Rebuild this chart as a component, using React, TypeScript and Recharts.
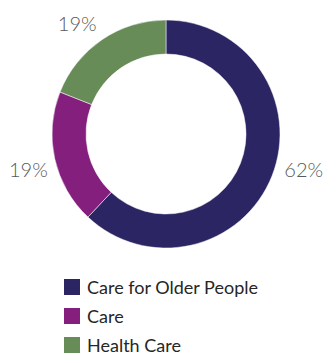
import { PieChart, Pie, Cell, Legend } from "recharts";

const categories = ["Care for Older People", "Care", "Health Care"];
const shares = [62, 19, 19];
const colors = ["#2B2563", "#841F7E", "#688C58"];

const data = categories.map((name, i) => ({ name, value: shares[i] }));

const RADIAN = Math.PI / 180;
// small angle shifts so the outside labels sit where the original has them
const labelNudge = [7.5, 1.6, 4.5];

const renderLabel = (props: any) => {
  const { cx, cy, midAngle, outerRadius, value, index } = props;
  const angle = midAngle + labelNudge[index];
  const r = outerRadius + 28;
  const x = cx + r * Math.cos(-angle * RADIAN);
  const y = cy + r * Math.sin(-angle * RADIAN);
  return (
    <text
      x={x}
      y={y}
      fill="#595959"
      fontSize={20}
      fontWeight={300}
      fontFamily="Lato, 'Noto Sans', sans-serif"
      textAnchor="middle"
      dominantBaseline="central"
    >
      {`${value}%`}
    </text>
  );
};

const renderLegend = () => (
  <div style={{ fontFamily: "Lato, 'Noto Sans', sans-serif" }}>
    {data.map((d, i) => (
      <div
        key={d.name}
        style={{ display: "flex", alignItems: "center", height: 29 }}
      >
        <span
          style={{
            width: 16,
            height: 16,
            background: colors[i],
            marginRight: 7,
            display: "inline-block",
          }}
        />
        <span style={{ fontSize: 18, color: "#262626" }}>{d.name}</span>
      </div>
    ))}
  </div>
);

export default function App() {
  return (
    <div
      style={{
        position: "absolute",
        top: 0,
        left: 0,
        width: 323,
        height: 354,
        background: "#fff",
      }}
    >
      <PieChart
        width={323}
        height={354}
        margin={{ top: 0, right: 0, bottom: 0, left: 0 }}
      >
        <Pie
          data={data}
          dataKey="value"
          nameKey="name"
          cx={166}
          cy={134}
          innerRadius={80}
          outerRadius={114}
          startAngle={90}
          endAngle={-270}
          stroke="#ffffff"
          strokeWidth={0.5}
          label={renderLabel}
          labelLine={false}
          isAnimationActive={false}
        >
          {data.map((d, i) => (
            <Cell key={d.name} fill={colors[i]} />
          ))}
        </Pie>
        <Legend
          content={renderLegend}
          layout="vertical"
          wrapperStyle={{ top: 272, left: 64, width: 250 }}
        />
      </PieChart>
    </div>
  );
}
